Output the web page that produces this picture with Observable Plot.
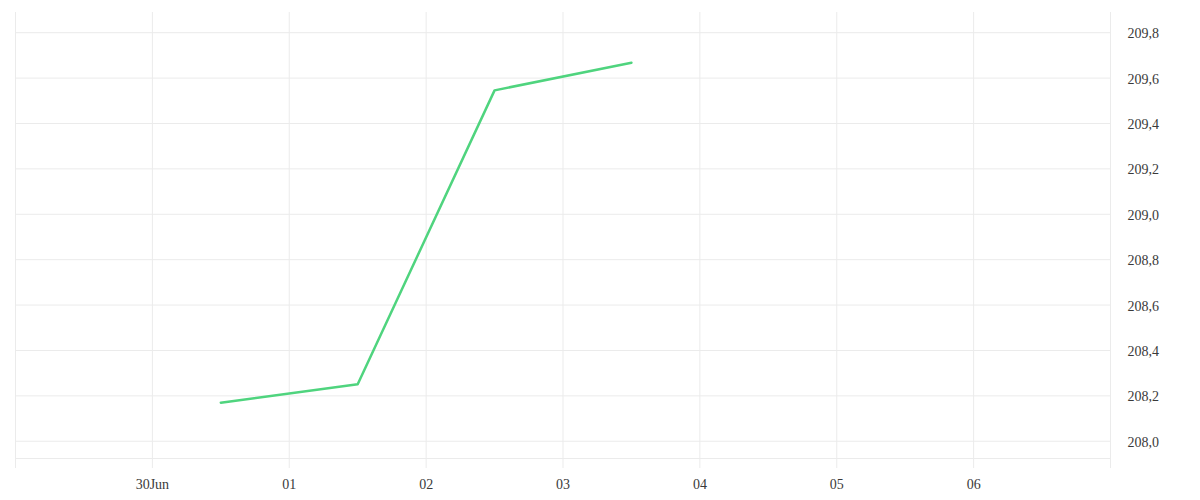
<!DOCTYPE html>
<html>
<head>
<meta charset="utf-8">
<script src="https://cdn.jsdelivr.net/npm/d3@7"></script>
<script src="https://cdn.jsdelivr.net/npm/@observablehq/plot@0.6"></script>
<style>
  html, body { margin: 0; padding: 0; background: #fff; }
  #chart svg { display: block; }
</style>
</head>
<body>
<div id="chart"></div>
<script>
// Data
const dates = ["2023-06-30T12:00", "2023-07-01T12:00", "2023-07-02T12:00", "2023-07-03T12:00"];
const values = [208.17, 208.251, 209.546, 209.668];

const xTickDates = ["2023-06-29", "2023-06-30", "2023-07-01", "2023-07-02", "2023-07-03", "2023-07-04", "2023-07-05", "2023-07-06", "2023-07-07"];
const xTickLabels = ["", "30Jun", "01", "02", "03", "04", "05", "06", ""];
const yTicks = [208.0, 208.2, 208.4, 208.6, 208.8, 209.0, 209.2, 209.4, 209.6, 209.8];
const xDomain = ["2023-06-29", "2023-07-07"];
const yDomain = [207.924, 209.889];

const parse = s => new Date(s);
const data = dates.map((d, i) => ({date: parse(d), value: values[i]}));
const xTicks = xTickDates.map(parse);
const labelOf = new Map(xTicks.map((d, i) => [+d, xTickLabels[i]]));

const gridColor = "#ebebeb";
const textColor = "#3a3a3a";

const chart = Plot.plot({
  width: 1200,
  height: 500,
  marginTop: 12,
  marginBottom: 42,
  marginLeft: 15,
  marginRight: 90,
  style: {fontFamily: "'Liberation Serif', serif", fontSize: "14px", color: textColor, background: "#fff"},
  x: {type: "time", domain: xDomain.map(parse)},
  y: {domain: yDomain},
  marks: [
    Plot.ruleY(yTicks, {stroke: gridColor, strokeWidth: 1}),
    Plot.ruleY([yDomain[0]], {stroke: gridColor, strokeWidth: 1}),
    Plot.ruleX(xTicks, {stroke: gridColor, strokeWidth: 1}),
    Plot.axisX({
      ticks: xTicks,
      tickSize: 10,
      tickPadding: 11,
      stroke: gridColor,
      fill: textColor,
      tickFormat: d => labelOf.get(+d) ?? "",
      label: null
    }),
    Plot.axisY({
      anchor: "right",
      ticks: yTicks,
      tickSize: 0,
      tickPadding: 17,
      dy: 1,
      fill: textColor,
      tickFormat: d => d.toFixed(1).replace(".", ","),
      label: null
    }),
    Plot.line(data, {x: "date", y: "value", stroke: "#4fd47e", strokeWidth: 2.5, curve: "linear"})
  ]
});

document.getElementById("chart").appendChild(chart);
</script>
</body>
</html>
